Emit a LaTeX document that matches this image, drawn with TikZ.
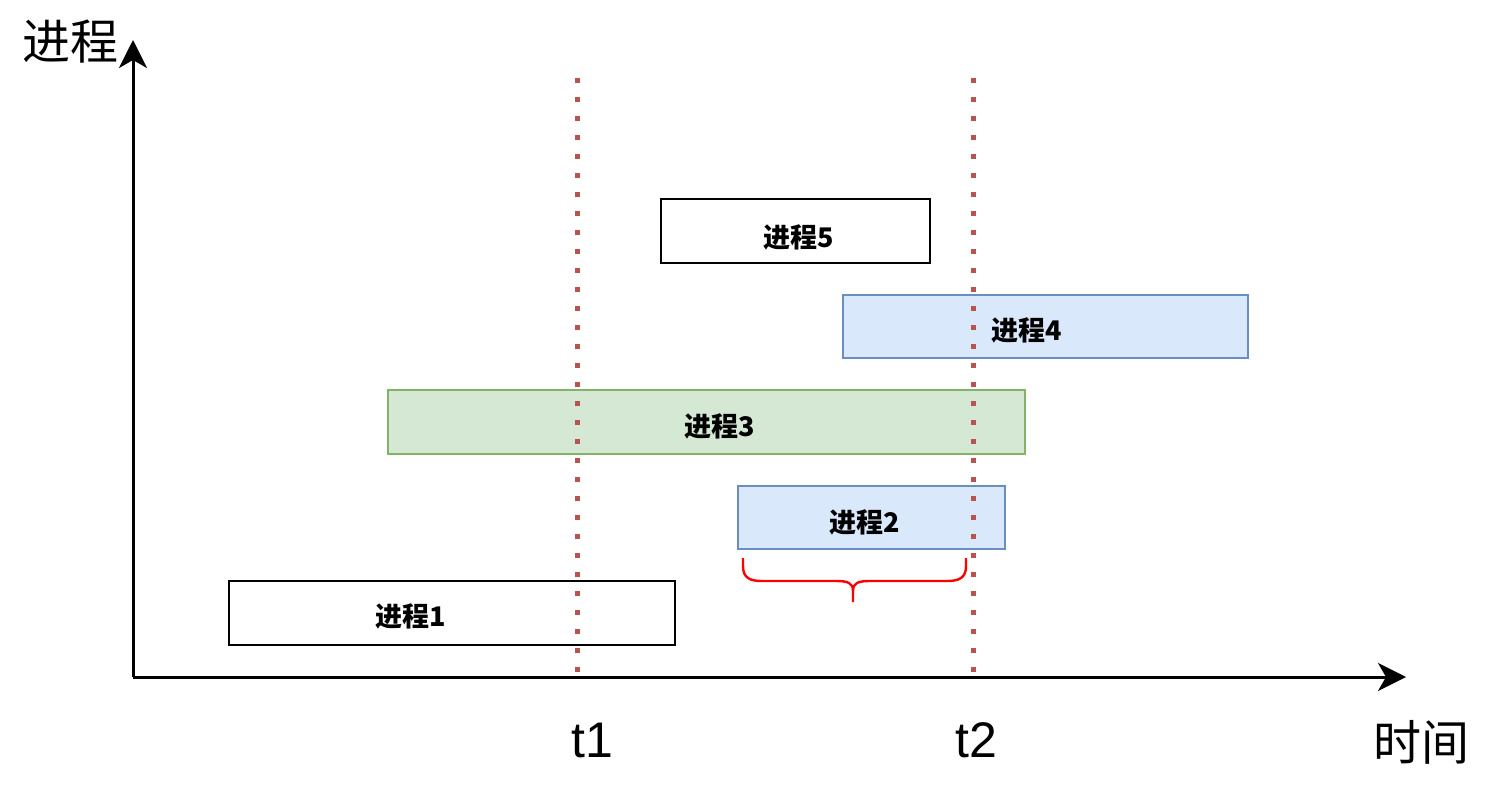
\documentclass[tikz,border=0pt]{standalone}
\usepackage{fontspec}
\setmainfont{Liberation Sans}
\newfontfamily\cjk{Noto Sans CJK SC}
\usetikzlibrary{arrows.meta}
\definecolor{blueF}{HTML}{DAE8FC}
\definecolor{blueS}{HTML}{6C8EBF}
\definecolor{greenF}{HTML}{D5E8D4}
\definecolor{greenS}{HTML}{82B366}
\definecolor{dotred}{HTML}{B85450}
\tikzset{
  proc/.style={draw, line width=1.3pt, rectangle, inner sep=0pt, outer sep=0pt, anchor=north west},
  plain/.style={proc, fill=white, draw=black},
  bluebox/.style={proc, fill=blueF, draw=blueS},
  greenbox/.style={proc, fill=greenF, draw=greenS},
  plabel/.style={font=\cjk\bfseries\fontsize{13.5}{16}\selectfont, inner sep=0pt},
  axislabel/.style={font=\cjk\fontsize{24}{28}\selectfont, inner sep=0pt},
  ticklabel/.style={font=\fontsize{25}{30}\selectfont, inner sep=0pt},
  axis/.style={line width=1.5pt, -{Stealth[length=14pt,width=14pt,inset=4pt]}},
  tline/.style={dotred, line width=2.5pt, dash pattern=on 2.5pt off 7pt},
  brace/.style={red, line width=1.2pt}
}
\begin{document}
\begin{tikzpicture}[x=0.5pt,y=-0.5pt]
\useasboundingbox (0,0) rectangle (1498,792);
\fill[white] (0,0) rectangle (1498,792);
% boxes (width/height in pt = px/2)
\node[plain, minimum width=134.5pt, minimum height=32pt] (b5) at (661,199) {};
\node[bluebox, minimum width=202.5pt, minimum height=31.5pt] (b4) at (843,295) {};
\node[greenbox, minimum width=318.5pt, minimum height=32pt] (b3) at (388,390) {};
\node[bluebox, minimum width=133.5pt, minimum height=31.5pt] (b2) at (738,486) {};
\node[plain, minimum width=223pt, minimum height=32pt] (b1) at (229,581) {};
\node[plabel] (p5) at (799,237) {进程5};
\node[plabel] (p4) at (1027,330) {进程4};
\node[plabel] (p3) at (720,426) {进程3};
\node[plabel] (p2) at (865,522) {进程2};
\node[plabel] (p1) at (411,616) {进程1};
% axes
\coordinate (o) at (133,677);
\coordinate (ytip) at (133,40);
\coordinate (xtip) at (1406,677);
\draw[axis] (o) -- (ytip);
\draw[axis] (o) -- (xtip);
\node[axislabel] (ylab) at (70,42) {进程};
\node[axislabel] (xlab) at (1421,742) {时间};
% time lines
\coordinate (t1top) at (577,78);
\coordinate (t1bot) at (577,677);
\coordinate (t2top) at (973,78);
\coordinate (t2bot) at (973,677);
\draw[tline] (t1top) -- (t1bot);
\draw[tline] (t2top) -- (t2bot);
\node[ticklabel] (t1) at (592,740) {t1};
\node[ticklabel] (t2) at (976,740) {t2};
% brace
\draw[brace] (743,558) -- (743,566) .. controls (743,578) and (750,581) .. (762,581)
  -- (836,581) .. controls (848,581) and (853,583) .. (853,591) -- (853,602);
\draw[brace] (966,558) -- (966,566) .. controls (966,578) and (959,581) .. (947,581)
  -- (870,581) .. controls (858,581) and (853,583) .. (853,591);
\end{tikzpicture}
\end{document}
